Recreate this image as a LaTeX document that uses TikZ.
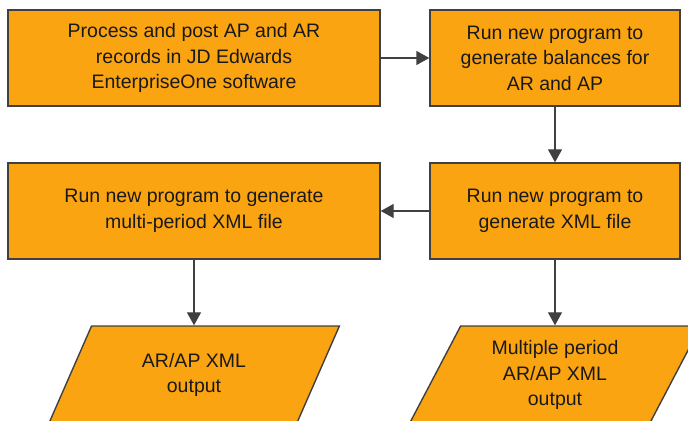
\documentclass[tikz,border=0pt]{standalone}
\usepackage{fontspec}
\setmainfont{Liberation Sans}
\usetikzlibrary{shapes.geometric,arrows.meta}
\definecolor{boxorange}{RGB}{251,164,18}
\definecolor{edgegray}{RGB}{64,64,64}
\definecolor{textdark}{RGB}{25,25,25}

\begin{document}
\begin{tikzpicture}[x=0.5pt,y=-0.5pt,
	procbox/.style={rectangle,draw=edgegray,line width=0.7pt,fill=boxorange,text=textdark,align=center,minimum height=48pt,inner sep=0pt,font=\fontsize{9.75}{12.7}\selectfont},
	outbox/.style={trapezium,trapezium left angle=63.4,trapezium right angle=116.6,trapezium stretches=true,draw=edgegray,line width=0.7pt,fill=boxorange,text=textdark,align=center,minimum width=146pt,minimum height=49pt,inner sep=0pt,font=\fontsize{9.75}{12.7}\selectfont},
	flowarrow/.style={draw=edgegray,line width=0.7pt,-{Triangle[length=6.5pt,width=7pt]}}]

	\useasboundingbox (0,0) rectangle (688,421);

	\node[procbox,minimum width=186pt] (post) at (194,58) {Process and post AP and AR\\records in JD Edwards\\EnterpriseOne software};
	\node[procbox,minimum width=125pt] (balances) at (555,58) {Run new program to\\generate balances for\\AR and AP};
	\node[procbox,minimum width=125pt] (xmlfile) at (555,211) {Run new program to\\generate XML file};
	\node[procbox,minimum width=186pt] (multixml) at (194,211) {Run new program to generate\\multi-period XML file};

	\node[outbox] (arxml) at (194,375) {AR/AP XML\\output};
	\node[outbox] (multiout) at (555,375) {Multiple period\\AR/AP XML\\output};

	\draw[flowarrow] (post) -- (balances);
	\draw[flowarrow] (balances) -- (xmlfile);
	\draw[flowarrow] (xmlfile) -- (multixml);
	\draw[flowarrow] (multixml) -- (arxml);
	\draw[flowarrow] (xmlfile) -- (multiout);

\end{tikzpicture}
\end{document}
